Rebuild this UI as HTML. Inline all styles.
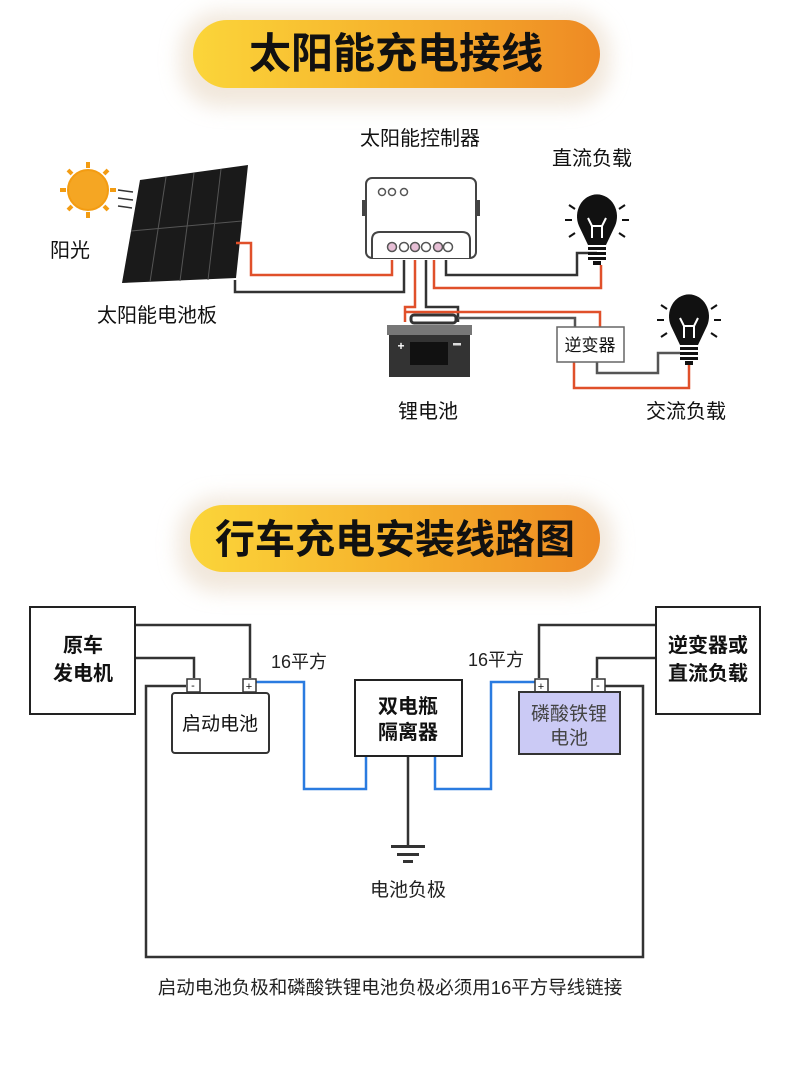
<!DOCTYPE html>
<html><head><meta charset="utf-8"><style>
body{margin:0;background:#fff;}
svg text{font-family:"Liberation Sans","Noto Sans CJK SC",sans-serif;}
</style></head><body>
<svg width="790" height="1071" viewBox="0 0 790 1071" xmlns="http://www.w3.org/2000/svg">
<defs>
<linearGradient id="g" x1="0" x2="1" y1="0" y2="0"><stop offset="0" stop-color="#fbd53a"/><stop offset="0.5" stop-color="#f6b22c"/><stop offset="1" stop-color="#ee8a24"/></linearGradient>
<filter id="sh" x="-20%" y="-50%" width="140%" height="220%"><feGaussianBlur stdDeviation="10"/></filter>
</defs>
<rect width="790" height="1071" fill="#fff"/>
<rect x="180" y="12" width="430" height="95" rx="40" fill="#e8d8c4" opacity="0.6" filter="url(#sh)"/>
<rect x="193" y="20" width="407" height="68" rx="34" fill="url(#g)"/>
<text x="396" y="68" font-size="42" font-weight="bold" text-anchor="middle" fill="#111">太阳能充电接线</text>
<rect x="178" y="497" width="435" height="95" rx="40" fill="#e8d8c4" opacity="0.6" filter="url(#sh)"/>
<rect x="190" y="505" width="410" height="67" rx="33" fill="url(#g)"/>
<text x="395" y="553" font-size="40" font-weight="bold" text-anchor="middle" fill="#111">行车充电安装线路图</text>

<g fill="#f39c12">
<circle cx="88" cy="190" r="20" fill="#f5a623" stroke="#f39c12" stroke-width="2"/>
<g stroke="#f39c12" stroke-width="4">
<line x1="88" y1="162" x2="88" y2="168"/><line x1="88" y1="212" x2="88" y2="218"/>
<line x1="60" y1="190" x2="66" y2="190"/><line x1="110" y1="190" x2="116" y2="190"/>
<line x1="68" y1="170" x2="72" y2="174"/><line x1="104" y1="206" x2="108" y2="210"/>
<line x1="68" y1="210" x2="72" y2="206"/><line x1="104" y1="174" x2="108" y2="170"/>
</g></g>
<g stroke="#333" stroke-width="1.5"><line x1="118" y1="190" x2="133" y2="192"/><line x1="118" y1="198" x2="133" y2="200"/><line x1="118" y1="206" x2="132" y2="208"/></g>
<text x="50" y="257" font-size="20" fill="#111">阳光</text>
<polygon points="140,180 248,165 236,278 122,283" fill="#1a1a1a"/>
<g stroke="#555" stroke-width="1"><line x1="194" y1="173" x2="180" y2="281"/><line x1="131" y1="231" x2="242" y2="221"/><line x1="166" y1="177" x2="150" y2="282"/><line x1="221" y1="169" x2="208" y2="280"/></g>
<text x="157" y="322" font-size="20" text-anchor="middle" fill="#111">太阳能电池板</text>
<text x="420" y="145" font-size="20" text-anchor="middle" fill="#111">太阳能控制器</text>
<text x="592" y="165" font-size="20" text-anchor="middle" fill="#111">直流负载</text>

<g fill="none" stroke-width="2.5">
<polyline points="236,243 251,243 251,275 392,275 392,260" stroke="#e0502a"/>
<polyline points="235,280 235,292 404,292 404,260" stroke="#333"/>
<polyline points="446,260 446,275 577,275 577,253 597,253" stroke="#333"/>
<polyline points="434,260 434,288 601,288 601,265" stroke="#e0502a"/>
<polyline points="415,260 415,307 405,307 405,322" stroke="#e0502a"/>
<polyline points="426,260 426,307 458,307 458,322" stroke="#333"/>
<polyline points="405,312 600,312 600,328" stroke="#e0502a"/>
<polyline points="458,318 575,318 575,328" stroke="#555"/>
<polyline points="597,362 597,373 658,373 658,353 680,353" stroke="#555"/>
<polyline points="574,362 574,388 689,388 689,365" stroke="#e0502a"/>
</g>
<rect x="366" y="178" width="110" height="80" rx="6" fill="#fff" stroke="#444" stroke-width="2"/>
<rect x="362" y="200" width="5" height="16" fill="#444"/><rect x="475" y="200" width="5" height="16" fill="#444"/>
<path d="M372 258 L372 240 Q372 232 380 232 L462 232 Q470 232 470 240 L470 258" fill="#fff" stroke="#444" stroke-width="2"/>
<g fill="#fff" stroke="#555" stroke-width="1.5"><circle cx="382" cy="192" r="3.5"/><circle cx="392" cy="192" r="3.5"/><circle cx="404" cy="192" r="3.5"/></g>
<g stroke="#555" stroke-width="1.5"><circle cx="392" cy="247" r="4.5" fill="#e7bfd6"/><circle cx="404" cy="247" r="4.5" fill="#fff"/><circle cx="415" cy="247" r="4.5" fill="#e7bfd6"/><circle cx="426" cy="247" r="4.5" fill="#fff"/><circle cx="438" cy="247" r="4.5" fill="#e7bfd6"/><circle cx="448" cy="247" r="4.5" fill="#fff"/></g>
<g id="b1">
<path d="M579 226 A20 22 0 1 1 615 226 L606 245 L588 245 Z" fill="#111"/>
<path d="M592 238 L592 226 L588 218 M602 238 L602 226 L606 218 M592 226 L602 226" stroke="#fff" stroke-width="2" fill="none"/>
<g fill="#111"><rect x="588" y="247" width="18" height="3"/><rect x="588" y="252" width="18" height="3"/><rect x="588" y="257" width="18" height="3"/><rect x="593" y="261" width="8" height="4"/></g>
<g stroke="#111" stroke-width="2"><line x1="565" y1="220" x2="572" y2="220"/><line x1="622" y1="220" x2="629" y2="220"/><line x1="569" y1="205" x2="575" y2="209"/><line x1="625" y1="205" x2="619" y2="209"/><line x1="569" y1="237" x2="575" y2="233"/><line x1="625" y1="237" x2="619" y2="233"/></g>
</g>
<use href="#b1" x="92" y="100"/>
<rect x="411" y="315" width="45" height="8" rx="3" fill="none" stroke="#333" stroke-width="3"/>
<rect x="387" y="325" width="85" height="10" fill="#777"/>
<rect x="389" y="335" width="81" height="42" fill="#333"/>
<rect x="410" y="342" width="38" height="23" fill="#111"/>
<text x="401" y="350" font-size="12" fill="#fff" text-anchor="middle" font-weight="bold">+</text>
<rect x="453" y="343" width="8" height="2.5" fill="#ddd"/>
<text x="428" y="418" font-size="20" text-anchor="middle" fill="#111">锂电池</text>
<rect x="557" y="327" width="67" height="35" fill="#fff" stroke="#666" stroke-width="1.5"/>
<text x="590" y="351" font-size="17" text-anchor="middle" fill="#111">逆变器</text>
<text x="686" y="418" font-size="20" text-anchor="middle" fill="#111">交流负载</text>

<g fill="none" stroke-width="2.5">
<polyline points="135,625 250,625 250,678" stroke="#333"/>
<polyline points="135,658 194,658 194,678" stroke="#333"/>
<polyline points="186,686 146,686 146,957 643,957 643,686 605,686" stroke="#333"/>
<polyline points="656,625 539,625 539,678" stroke="#333"/>
<polyline points="656,658 597,658 597,678" stroke="#333"/>
<polyline points="256,682 304,682 304,789 366,789 366,756" stroke="#2a7be0"/>
<polyline points="435,756 435,789 491,789 491,682 537,682" stroke="#2a7be0"/>
<line x1="408" y1="756" x2="408" y2="845" stroke="#333"/>
</g>
<g fill="#333"><rect x="391" y="845" width="34" height="3"/><rect x="397" y="853" width="22" height="3"/><rect x="403" y="860" width="10" height="3"/></g>
<text x="408" y="896" font-size="19" text-anchor="middle" fill="#222">电池负极</text>
<rect x="30" y="607" width="105" height="107" fill="#fff" stroke="#222" stroke-width="2"/>
<text x="83" y="652" font-size="20" font-weight="bold" text-anchor="middle" fill="#111">原车</text>
<text x="83" y="680" font-size="20" font-weight="bold" text-anchor="middle" fill="#111">发电机</text>
<rect x="656" y="607" width="104" height="107" fill="#fff" stroke="#222" stroke-width="2"/>
<text x="708" y="652" font-size="20" font-weight="bold" text-anchor="middle" fill="#111">逆变器或</text>
<text x="708" y="680" font-size="20" font-weight="bold" text-anchor="middle" fill="#111">直流负载</text>
<rect x="172" y="693" width="97" height="60" rx="3" fill="#fff" stroke="#333" stroke-width="2"/>
<text x="220" y="730" font-size="19" text-anchor="middle" fill="#111">启动电池</text>
<g fill="#fff" stroke="#333" stroke-width="1.5"><rect x="187" y="679" width="13" height="13"/><rect x="243" y="679" width="13" height="13"/><rect x="535" y="679" width="13" height="13"/><rect x="592" y="679" width="13" height="13"/></g>
<g font-size="11" text-anchor="middle" fill="#111"><text x="193" y="689">-</text><text x="249" y="690">+</text><text x="541" y="690">+</text><text x="598" y="689">-</text></g>
<rect x="355" y="680" width="107" height="76" fill="#fff" stroke="#222" stroke-width="2"/>
<text x="408" y="713" font-size="20" font-weight="bold" text-anchor="middle" fill="#111">双电瓶</text>
<text x="408" y="739" font-size="20" font-weight="bold" text-anchor="middle" fill="#111">隔离器</text>
<rect x="519" y="692" width="101" height="62" fill="#cbcaf5" stroke="#333" stroke-width="2"/>
<text x="569" y="720" font-size="19" text-anchor="middle" fill="#444">磷酸铁锂</text>
<text x="569" y="744" font-size="19" text-anchor="middle" fill="#444">电池</text>
<text x="299" y="668" font-size="18" text-anchor="middle" fill="#222">16平方</text>
<text x="496" y="666" font-size="18" text-anchor="middle" fill="#222">16平方</text>
<text x="390" y="994" font-size="18.5" text-anchor="middle" fill="#222">启动电池负极和磷酸铁锂电池负极必须用16平方导线链接</text>
</svg>
</body></html>
